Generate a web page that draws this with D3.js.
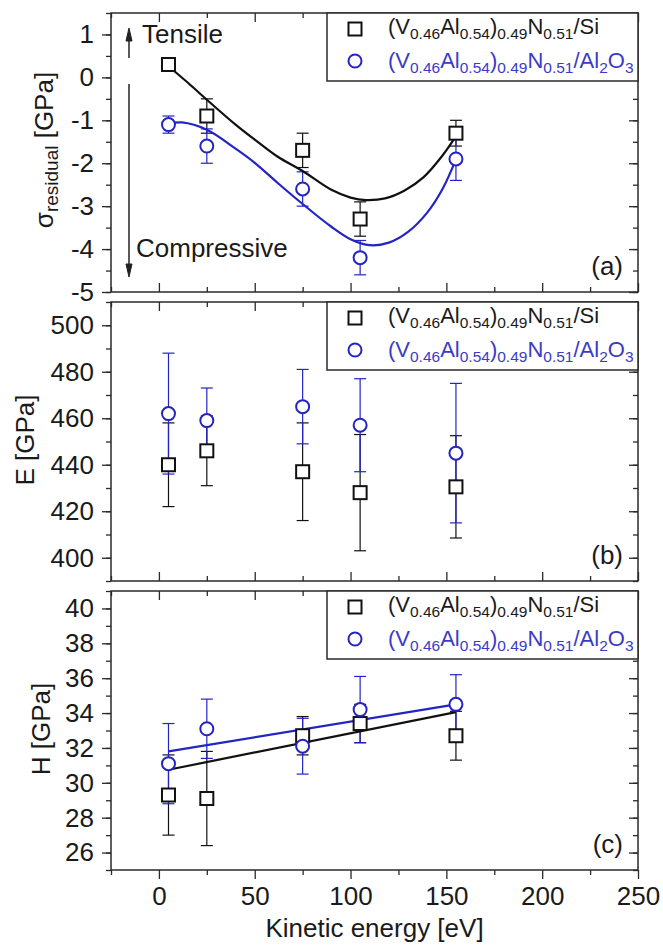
<!DOCTYPE html>
<html>
<head>
<meta charset="utf-8">
<script src="https://cdn.jsdelivr.net/npm/d3@7"></script>
<style>
body { margin: 0; background: #fff; }
svg text { font-family: "Liberation Sans", Arial, sans-serif; }
</style>
</head>
<body>
<div id="chart"></div>
<script>
/* CONSTANTS AND GLOBALS */
const width = 663;
const height = 945;
const plotLeft = 111;
const plotRight = 638;
const panelHeight = 279;
const black = "#111";
const blue = "#2424c4";
const blueText = "#3b3bc6";
const axisColor = "#2a2a2a";

/* DATA */
// kinetic energy of the ions [eV]
const energy = [5, 25, 75, 105, 155];

// (a) residual stress [GPa]
const stressSi = [0.3, -0.9, -1.7, -3.3, -1.3];
const stressSiErr = [0.1, 0.4, 0.4, 0.4, 0.3];
const stressAl = [-1.1, -1.6, -2.6, -4.2, -1.9];
const stressAlErr = [0.2, 0.4, 0.4, 0.4, 0.5];

// fitted curves of (a)
const stressFitSiX = [5, 15, 25, 40, 50, 62, 75, 90, 100, 108, 118, 128, 138, 148, 155];
const stressFitSiY = [0.26, -0.12, -0.52, -1.1, -1.45, -1.85, -2.18, -2.62, -2.8, -2.86, -2.82, -2.64, -2.33, -1.82, -1.37];
const stressFitAlX = [5, 12, 25, 40, 50, 62, 75, 90, 100, 110, 120, 130, 140, 148, 155];
const stressFitAlY = [-1.08, -1.05, -1.22, -1.66, -1.99, -2.46, -2.95, -3.48, -3.77, -3.91, -3.85, -3.6, -3.15, -2.6, -1.91];

// (b) Young's modulus [GPa]
const modulusSi = [440, 446, 437, 428, 430.5];
const modulusSiErr = [18, 15, 21, 25, 22];
const modulusAl = [462, 459, 465, 457, 445];
const modulusAlErr = [26, 14, 16, 20, 30];

// (c) hardness [GPa]
const hardSi = [29.3, 29.1, 32.7, 33.4, 32.7];
const hardSiErr = [2.3, 2.7, 1.1, 1.1, 1.4];
const hardAl = [31.1, 33.1, 32.1, 34.2, 34.5];
const hardAlErr = [2.3, 1.7, 1.6, 1.9, 1.7];

// linear fits of (c)
const hardFitX = [5, 155];
const hardFitSi = [30.75, 34.05];
const hardFitAl = [31.8, 34.5];

// ticks
const xMajor = [0, 50, 100, 150, 200, 250];
const xMinor = [-25, 25, 75, 125, 175, 225];
const stressTicks = [-5, -4, -3, -2, -1, 0, 1];
const modulusTicks = [400, 420, 440, 460, 480, 500];
const hardTicks = [26, 28, 30, 32, 34, 36, 38, 40];

// legend labels
const legendSi = [["(V", 0], ["0.46", 1], ["Al", 0], ["0.54", 1], [")", 0], ["0.49", 1], ["N", 0], ["0.51", 1], ["/Si", 0]];
const legendAl = [["(V", 0], ["0.46", 1], ["Al", 0], ["0.54", 1], [")", 0], ["0.49", 1], ["N", 0], ["0.51", 1], ["/Al", 0], ["2", 1], ["O", 0], ["3", 1]];

const panels = [
    { top: 13, domain: [-5, 1.5], major: stressTicks, minor: d3.range(-5, 1.51, 0.5),
      si: stressSi, siErr: stressSiErr, al: stressAl, alErr: stressAlErr,
      fitSi: stressFitSiX.map((d, i) => [d, stressFitSiY[i]]),
      fitAl: stressFitAlX.map((d, i) => [d, stressFitAlY[i]]),
      letter: "(a)" },
    { top: 302, domain: [390, 510], major: modulusTicks, minor: d3.range(390, 511, 10),
      si: modulusSi, siErr: modulusSiErr, al: modulusAl, alErr: modulusAlErr,
      letter: "(b)" },
    { top: 591, domain: [25, 41], major: hardTicks, minor: d3.range(25, 41.5, 1),
      si: hardSi, siErr: hardSiErr, al: hardAl, alErr: hardAlErr,
      fitSi: hardFitX.map((d, i) => [d, hardFitSi[i]]),
      fitAl: hardFitX.map((d, i) => [d, hardFitAl[i]]),
      letter: "(c)" }
];

const svg = d3.select("#chart")
    .append("svg")
    .attr("width", width)
    .attr("height", height)

/* SCALES */
const xScale = d3.scaleLinear()
    .domain([-25, 250])
    .range([plotLeft, plotRight])

// draws an axis and throws away the domain path (the frame is a rect)
function drawAxis(g, axis, tx, ty, fontSize) {
    const a = g.append("g")
        .attr("transform", `translate(${tx},${ty})`)
        .call(axis)
    a.select(".domain").remove()
    a.selectAll("line").attr("stroke", axisColor).attr("stroke-width", 1.3)
    a.selectAll("text").attr("fill", "#1a1a1a").style("font-size", fontSize + "px")
    return a
}

function addFormula(text, parts, mainSize, subSize) {
    let shifted = false;
    parts.forEach(([s, sub]) => {
        const t = text.append("tspan").text(s).attr("font-size", sub ? subSize : mainSize)
        if (sub && !shifted) { t.attr("dy", 5); shifted = true; }
        else if (!sub && shifted) { t.attr("dy", -5); shifted = false; }
    })
}

panels.forEach(p => {
    const bottom = p.top + panelHeight;
    const yScale = d3.scaleLinear()
        .domain(p.domain)
        .range([bottom, p.top])
    const g = svg.append("g")
    const last = p.letter === "(c)";

    /* AXES */
    // left, outward ticks with labels
    drawAxis(g, d3.axisLeft(yScale).tickValues(p.minor).tickSize(5).tickFormat(""), plotLeft, 0, 26)
    drawAxis(g, d3.axisLeft(yScale).tickValues(p.major).tickSize(9).tickPadding(8).tickFormat(d => String(d)), plotLeft, 0, 26)
    // right, inward ticks
    drawAxis(g, d3.axisRight(yScale).tickValues(p.minor).tickSize(-5).tickFormat(""), plotRight, 0, 26)
    drawAxis(g, d3.axisRight(yScale).tickValues(p.major).tickSize(-9).tickFormat(""), plotRight, 0, 26)
    // top, inward
    drawAxis(g, d3.axisTop(xScale).tickValues(xMinor).tickSize(-5).tickFormat(""), 0, p.top, 26)
    drawAxis(g, d3.axisTop(xScale).tickValues(xMajor).tickSize(-9).tickFormat(""), 0, p.top, 26)
    // bottom: inward for (a),(b), outward with labels for (c)
    if (last) {
        drawAxis(g, d3.axisBottom(xScale).tickValues(xMinor).tickSize(5).tickFormat(""), 0, bottom, 26)
        drawAxis(g, d3.axisBottom(xScale).tickValues(xMajor).tickSize(9).tickPadding(8).tickFormat(d => String(d)), 0, bottom, 26)
    } else {
        drawAxis(g, d3.axisBottom(xScale).tickValues(xMinor).tickSize(-5).tickFormat(""), 0, bottom, 26)
        drawAxis(g, d3.axisBottom(xScale).tickValues(xMajor).tickSize(-9).tickFormat(""), 0, bottom, 26)
    }

    // frame
    g.append("rect")
        .attr("x", plotLeft)
        .attr("y", p.top)
        .attr("width", plotRight - plotLeft)
        .attr("height", panelHeight)
        .attr("fill", "none")
        .attr("stroke", axisColor)
        .attr("stroke-width", 1.5)

    // ERROR BARS
    const series = [
        { v: p.si, e: p.siErr, color: black },
        { v: p.al, e: p.alErr, color: blue }
    ];
    series.forEach(s => {
        const eb = g.append("g").attr("stroke", s.color).attr("stroke-width", 1.2)
        energy.forEach((xv, i) => {
            const cx = xScale(xv);
            const y1 = yScale(s.v[i] + s.e[i]);
            const y2 = yScale(s.v[i] - s.e[i]);
            eb.append("line").attr("x1", cx).attr("x2", cx).attr("y1", y1).attr("y2", y2)
            eb.append("line").attr("x1", cx - 6).attr("x2", cx + 6).attr("y1", y1).attr("y2", y1)
            eb.append("line").attr("x1", cx - 6).attr("x2", cx + 6).attr("y1", y2).attr("y2", y2)
        })
    })

    // FIT LINES
    const line = d3.line()
        .x(d => xScale(d[0]))
        .y(d => yScale(d[1]))
        .curve(d3.curveCatmullRom.alpha(0.5))
    if (p.fitSi) {
        g.append("path").attr("d", line(p.fitSi)).attr("fill", "none").attr("stroke", black).attr("stroke-width", 2.2)
        g.append("path").attr("d", line(p.fitAl)).attr("fill", "none").attr("stroke", blue).attr("stroke-width", 2.2)
    }

    // MARKERS
    g.selectAll("rect.sq")
        .data(energy)
        .join("rect")
        .attr("class", "sq")
        .attr("x", d => xScale(d) - 6.5)
        .attr("y", (d, i) => yScale(p.si[i]) - 6.5)
        .attr("width", 13)
        .attr("height", 13)
        .attr("fill", "#fff")
        .attr("stroke", black)
        .attr("stroke-width", 2)
    g.selectAll("circle.ci")
        .data(energy)
        .join("circle")
        .attr("class", "ci")
        .attr("cx", d => xScale(d))
        .attr("cy", (d, i) => yScale(p.al[i]))
        .attr("r", 6.5)
        .attr("fill", "#fff")
        .attr("stroke", blue)
        .attr("stroke-width", 2)

    // LEGEND
    const lg = g.append("g")
    lg.append("rect")
        .attr("x", 327)
        .attr("y", p.top)
        .attr("width", plotRight - 327)
        .attr("height", 68)
        .attr("fill", "#fff")
        .attr("stroke", axisColor)
        .attr("stroke-width", 1.5)
    lg.append("rect")
        .attr("x", 355 - 6.5).attr("y", p.top + 16 - 6.5)
        .attr("width", 13).attr("height", 13)
        .attr("fill", "#fff").attr("stroke", black).attr("stroke-width", 2)
    lg.append("circle")
        .attr("cx", 355).attr("cy", p.top + 48).attr("r", 6.5)
        .attr("fill", "#fff").attr("stroke", blue).attr("stroke-width", 2)
    addFormula(lg.append("text").attr("x", 388).attr("y", p.top + 21).attr("fill", "#1a1a1a"), legendSi, 22, 15.5)
    addFormula(lg.append("text").attr("x", 388).attr("y", p.top + 55).attr("fill", blueText), legendAl, 22, 15.5)

    // PANEL LETTER
    g.append("text")
        .attr("x", 623)
        .attr("y", bottom - 17)
        .attr("text-anchor", "end")
        .style("font-size", "26px")
        .attr("fill", "#1a1a1a")
        .text(p.letter)
})

// AXIS TITLES
const yTitleA = svg.append("text")
    .attr("transform", "translate(53,150) rotate(-90)")
    .attr("text-anchor", "middle")
    .attr("fill", "#1a1a1a")
addFormula(yTitleA, [["σ", 0], ["residual", 1], [" [GPa]", 0]], 26, 19)

svg.append("text")
    .attr("transform", "translate(34,440) rotate(-90)")
    .attr("text-anchor", "middle")
    .style("font-size", "26px")
    .attr("fill", "#1a1a1a")
    .text("E [GPa]")

svg.append("text")
    .attr("transform", "translate(50,729) rotate(-90)")
    .attr("text-anchor", "middle")
    .style("font-size", "26px")
    .attr("fill", "#1a1a1a")
    .text("H [GPa]")

svg.append("text")
    .attr("x", (plotLeft + plotRight) / 2)
    .attr("y", 937)
    .attr("text-anchor", "middle")
    .style("font-size", "26px")
    .attr("fill", "#1a1a1a")
    .text("Kinetic energy [eV]")

// TENSILE / COMPRESSIVE ANNOTATION
svg.append("text").attr("x", 142).attr("y", 43).style("font-size", "26px").attr("fill", "#1a1a1a").text("Tensile")
svg.append("text").attr("x", 136).attr("y", 257).style("font-size", "26px").attr("fill", "#1a1a1a").text("Compressive")

const arrows = svg.append("g").attr("stroke", "#222").attr("fill", "#222")
arrows.append("line").attr("x1", 129).attr("x2", 129).attr("y1", 58).attr("y2", 38).attr("stroke-width", 1.5)
arrows.append("path").attr("d", "M129,28 L132,41 L126,41 Z").attr("stroke-width", 1)
arrows.append("line").attr("x1", 129).attr("x2", 129).attr("y1", 84).attr("y2", 267).attr("stroke-width", 1.5)
arrows.append("path").attr("d", "M129,277 L132,264 L126,264 Z").attr("stroke-width", 1)
</script>
</body>
</html>
